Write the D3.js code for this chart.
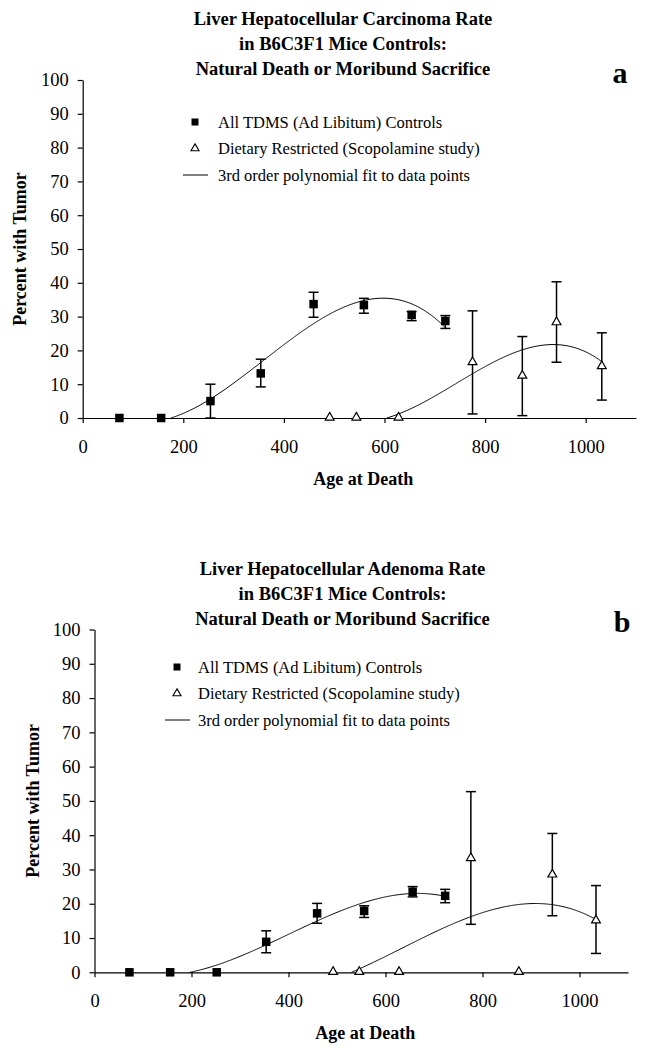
<!DOCTYPE html>
<html>
<head>
<meta charset="utf-8">
<script src="https://cdn.jsdelivr.net/npm/d3@7"></script>
<style>
  html, body { margin: 0; padding: 0; background: #fff; }
  svg { display: block; }
  text { font-family: "Liberation Serif", "Times New Roman", serif; fill: #000; }
</style>
</head>
<body>
<svg id="fig" width="645" height="1048"></svg>
<script>
// ---- Panel a: hepatocellular carcinoma ----
const carcAdLibAge  = [73, 156, 254, 354, 459, 559, 654, 721];
const carcAdLibPct  = [0, 0, 5, 13.2, 33.7, 33.4, 30.5, 28.7];
const carcAdLibLo   = [null, null, 0, 9.2, 29.8, 31.0, 28.8, 26.5];
const carcAdLibHi   = [null, null, 10, 17.4, 37.2, 35.4, 31.5, 30.3];

const carcDietAge   = [491, 544, 628, 775, 874, 942, 1032];
const carcDietPct   = [0, 0, 0, 16.4, 12.4, 28.2, 15.2];
const carcDietLo    = [null, null, null, 1.2, 0.7, 16.5, 5.3];
const carcDietHi    = [null, null, null, 31.7, 24.1, 40.3, 25.2];

// ---- Panel b: hepatocellular adenoma ----
const adenAdLibAge  = [72, 156, 252, 354, 459, 556, 656, 723];
const adenAdLibPct  = [0, 0, 0, 8.9, 17.2, 17.9, 23.5, 22.3];
const adenAdLibLo   = [null, null, null, 5.7, 14.3, 16.0, 22.0, 20.3];
const adenAdLibHi   = [null, null, null, 12.1, 20.1, 19.4, 25.0, 24.2];

const adenDietAge   = [492, 546, 628, 776, 875, 944, 1034];
const adenDietPct   = [0, 0, 0, 33.2, 0, 28.4, 15.0];
const adenDietLo    = [null, null, null, 14.0, null, 16.5, 5.5];
const adenDietHi    = [null, null, null, 52.7, null, 40.5, 25.3];

const xTicks = [0, 200, 400, 600, 800, 1000];
const yTicks = [0, 10, 20, 30, 40, 50, 60, 70, 80, 90, 100];
const legendLabels = [
  "All TDMS (Ad Libitum) Controls",
  "Dietary Restricted (Scopolamine study)",
  "3rd order polynomial fit to data points"
];
const titleA = ["Liver Hepatocellular Carcinoma Rate", "in B6C3F1 Mice Controls:", "Natural Death or Moribund Sacrifice"];
const titleB = ["Liver Hepatocellular Adenoma Rate", "in B6C3F1 Mice Controls:", "Natural Death or Moribund Sacrifice"];

const zip = (age, pct, lo, hi) => age.map((a, i) => ({ age: a, pct: pct[i], lo: lo[i], hi: hi[i] }));

// Least-squares cubic fit, solved via normal equations (Gaussian elimination)
function cubicFit(xs, ys) {
  const n = 4;
  const A = Array.from({ length: n }, () => new Array(n).fill(0));
  const b = new Array(n).fill(0);
  const s = 1000; // rescale x for numerical stability
  xs.forEach((x0, k) => {
    const x = x0 / s;
    for (let i = 0; i < n; i++) {
      b[i] += ys[k] * Math.pow(x, i);
      for (let j = 0; j < n; j++) A[i][j] += Math.pow(x, i + j);
    }
  });
  for (let c = 0; c < n; c++) {
    let p = c;
    for (let r = c + 1; r < n; r++) if (Math.abs(A[r][c]) > Math.abs(A[p][c])) p = r;
    [A[c], A[p]] = [A[p], A[c]]; [b[c], b[p]] = [b[p], b[c]];
    for (let r = c + 1; r < n; r++) {
      const f = A[r][c] / A[c][c];
      for (let j = c; j < n; j++) A[r][j] -= f * A[c][j];
      b[r] -= f * b[c];
    }
  }
  const coef = new Array(n).fill(0);
  for (let i = n - 1; i >= 0; i--) {
    let v = b[i];
    for (let j = i + 1; j < n; j++) v -= A[i][j] * coef[j];
    coef[i] = v / A[i][i];
  }
  return x0 => { const x = x0 / s; return coef[0] + coef[1] * x + coef[2] * x * x + coef[3] * x * x * x; };
}

// Samples of the fitted curve: the non-negative stretch that ends at the last data point
function fitCurve(age, pct) {
  const f = cubicFit(age, pct);
  const lo = d3.min(age), hi = d3.max(age);
  const pts = d3.range(lo, hi + 0.01, 2).map(a => ({ age: Math.min(a, hi), pct: f(Math.min(a, hi)) }));
  let start = pts.length - 1;
  while (start > 0 && pts[start - 1].pct >= 0) start--;
  const seg = pts.slice(start);
  if (start > 0) {
    // refine the zero crossing
    const a0 = pts[start - 1], a1 = pts[start];
    const t = a0.pct / (a0.pct - a1.pct);
    seg.unshift({ age: a0.age + t * (a1.age - a0.age), pct: 0 });
  }
  return seg;
}

const svg = d3.select("#fig");

function drawPanel(cfg) {
  const g = svg.append("g");
  const x = d3.scaleLinear().domain([0, 1100]).range([cfg.x0, cfg.x1]);
  const y = d3.scaleLinear().domain([0, 100]).range([cfg.y0, cfg.y1]);

  // title
  g.append("text")
    .attr("text-anchor", "middle")
    .style("font-weight", "bold").style("font-size", "18.5px")
    .selectAll("tspan").data(cfg.title).join("tspan")
    .attr("x", cfg.titleX).attr("y", (d, i) => cfg.titleY + i * 25)
    .text(d => d);

  // panel letter
  g.append("text").attr("x", cfg.letterX).attr("y", cfg.letterY)
    .attr("text-anchor", "middle")
    .style("font-weight", "bold").style("font-size", "30px")
    .text(cfg.letter);

  // axes
  const yAxis = d3.axisLeft(y).tickValues(yTicks).tickSize(5).tickSizeOuter(0).tickPadding(9)
    .tickFormat(d3.format("d"));
  const gy = g.append("g").attr("transform", `translate(${cfg.x0},0)`).call(yAxis);
  const xAxis = d3.axisBottom(x).tickValues(xTicks).tickSize(5).tickSizeOuter(0).tickPadding(17)
    .tickFormat(d3.format("d"));
  const gx = g.append("g").attr("transform", `translate(0,${cfg.y0})`).call(xAxis);
  [gx, gy].forEach(a => {
    a.selectAll("path, line").attr("stroke", "#000").attr("stroke-width", 1.2);
    a.selectAll("text").style("font-size", "18.5px").style("font-family", '"Liberation Serif", serif');
  });

  // axis titles
  g.append("text")
    .attr("x", (cfg.x0 + cfg.x1) / 2 + 4).attr("y", cfg.xTitleY)
    .attr("text-anchor", "middle")
    .style("font-weight", "bold").style("font-size", "18px")
    .text("Age at Death");
  g.append("text")
    .attr("transform", `translate(${cfg.yTitleX},${(cfg.y0 + cfg.y1) / 2}) rotate(-90)`)
    .attr("text-anchor", "middle")
    .style("font-weight", "bold").style("font-size", "18px")
    .text("Percent with Tumor");

  // fitted curves
  const line = d3.line().x(d => x(d.age)).y(d => y(d.pct));
  [cfg.adLib, cfg.diet].forEach(s => {
    g.append("path")
      .attr("d", line(fitCurve(s.map(d => d.age), s.map(d => d.pct))))
      .attr("fill", "none").attr("stroke", "#000").attr("stroke-width", 1);
  });

  // error bars
  const withErr = cfg.adLib.concat(cfg.diet).filter(d => d.lo !== null);
  const cap = 5;
  const eb = g.append("g").attr("stroke", "#000").attr("stroke-width", 1.5);
  eb.selectAll("line.v").data(withErr).join("line")
    .attr("x1", d => x(d.age)).attr("x2", d => x(d.age))
    .attr("y1", d => y(d.lo)).attr("y2", d => y(d.hi));
  eb.selectAll("line.t").data(withErr).join("line")
    .attr("x1", d => x(d.age) - cap).attr("x2", d => x(d.age) + cap)
    .attr("y1", d => y(d.hi)).attr("y2", d => y(d.hi));
  eb.selectAll("line.b").data(withErr).join("line")
    .attr("x1", d => x(d.age) - cap).attr("x2", d => x(d.age) + cap)
    .attr("y1", d => y(d.lo)).attr("y2", d => y(d.lo));

  // markers
  const sq = 8.5;
  g.append("g").selectAll("rect").data(cfg.adLib).join("rect")
    .attr("x", d => x(d.age) - sq / 2).attr("y", d => y(d.pct) - sq / 2)
    .attr("width", sq).attr("height", sq).attr("fill", "#000");
  const tri = d3.symbol().type(d3.symbolTriangle).size(34);
  g.append("g").selectAll("path").data(cfg.diet).join("path")
    .attr("transform", d => `translate(${x(d.age)},${y(d.pct) - 0.5})`)
    .attr("d", tri).attr("fill", "#fff").attr("stroke", "#000").attr("stroke-width", 1.2);

  // legend
  const lg = g.append("g").attr("transform", `translate(${cfg.legX},${cfg.legY})`);
  const rowGap = 26.5;
  lg.append("rect").attr("x", -3.5).attr("y", -3.5).attr("width", 7).attr("height", 7).attr("fill", "#000");
  lg.append("path").attr("transform", `translate(0,${rowGap})`)
    .attr("d", d3.symbol().type(d3.symbolTriangle).size(28)).attr("fill", "#fff")
    .attr("stroke", "#000").attr("stroke-width", 1.1);
  lg.append("line").attr("x1", -12).attr("x2", 13)
    .attr("y1", 2 * rowGap).attr("y2", 2 * rowGap).attr("stroke", "#000").attr("stroke-width", 1);
  lg.selectAll("text.lab").data(legendLabels).join("text")
    .attr("x", cfg.legTextDx).attr("y", (d, i) => i * rowGap + 5.5)
    .style("font-size", "16.5px")
    .text(d => d);
}

drawPanel({
  x0: 82.7, x1: 636, y0: 418, y1: 80,
  title: titleA, titleX: 343, titleY: 25,
  letter: "a", letterX: 620, letterY: 83,
  xTitleY: 485, yTitleX: 26,
  legX: 195, legY: 122, legTextDx: 23,
  adLib: zip(carcAdLibAge, carcAdLibPct, carcAdLibLo, carcAdLibHi),
  diet: zip(carcDietAge, carcDietPct, carcDietLo, carcDietHi)
});

drawPanel({
  x0: 94.5, x1: 628, y0: 972.3, y1: 629.5,
  title: titleB, titleX: 342.5, titleY: 575,
  letter: "b", letterX: 622, letterY: 632,
  xTitleY: 1039, yTitleX: 39,
  legX: 177, legY: 667, legTextDx: 21,
  adLib: zip(adenAdLibAge, adenAdLibPct, adenAdLibLo, adenAdLibHi),
  diet: zip(adenDietAge, adenDietPct, adenDietLo, adenDietHi)
});
</script>
</body>
</html>
